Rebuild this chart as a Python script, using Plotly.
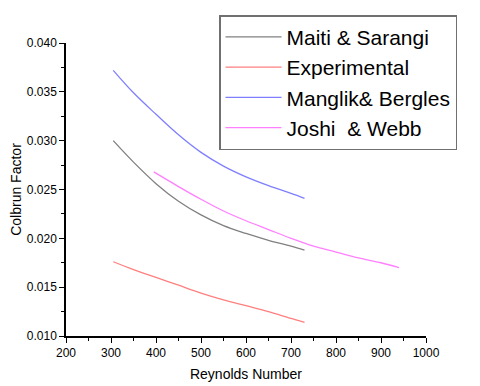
import plotly.graph_objects as go

# Valeurs
re_maiti = [305, 350, 400, 450, 500, 550, 600, 650, 700, 730]
j_maiti = [0.0300, 0.0278, 0.0256, 0.0238, 0.0224, 0.0213, 0.0205, 0.0198, 0.0192, 0.0188]

re_exp = [305, 350, 400, 450, 500, 550, 600, 650, 700, 730]
j_exp = [0.0176, 0.0168, 0.0160, 0.0152, 0.0144, 0.0137, 0.0131, 0.0125, 0.0118, 0.0114]

re_manglik = [305, 350, 400, 450, 500, 550, 600, 650, 700, 730]
j_manglik = [0.0372, 0.0349, 0.0327, 0.0306, 0.0288, 0.0274, 0.0263, 0.0254, 0.0246, 0.0241]

re_joshi = [395, 450, 500, 550, 600, 650, 700, 750, 800, 850, 900, 940]
j_joshi = [0.0268, 0.0253, 0.0240, 0.0228, 0.0218, 0.0209, 0.0200, 0.0192, 0.0186, 0.0180, 0.0175, 0.0170]

series = [
    ("Maiti & Sarangi", re_maiti, j_maiti, "#808080"),
    ("Experimental", re_exp, j_exp, "#ff7f7f"),
    ("Manglik& Bergles", re_manglik, j_manglik, "#7f7fff"),
    ("Joshi  & Webb", re_joshi, j_joshi, "#ff7fff"),
]

fig = go.Figure()
for nom, x, y, couleur in series:
    fig.add_trace(go.Scatter(x=x, y=y, mode="lines", name=nom,
                             line=dict(color=couleur, width=1.3, shape="spline", smoothing=1)))

axe = dict(showline=True, linecolor="black", linewidth=1.5, mirror=False,
           ticks="outside", ticklen=5, tickwidth=1.2, tickcolor="black",
           showgrid=False, zeroline=False, automargin=False,
           tickfont=dict(size=12, color="black"))

# la page ajoute une marge de 8 px autour de la figure
fig.update_layout(
    width=472, height=378,
    margin=dict(l=58, r=54, t=35, b=50, autoexpand=False),
    paper_bgcolor="white", plot_bgcolor="white",
    font=dict(family="Liberation Sans, Arial", color="black"),
    xaxis=dict(axe, range=[200, 1000], dtick=100,
               minor=dict(ticks="outside", ticklen=3, dtick=50, tickcolor="black"),
               title=dict(text="Reynolds Number", font=dict(size=14), standoff=10)),
    yaxis=dict(axe, range=[0.010, 0.040], dtick=0.005, tickformat=".3f",
               minor=dict(ticks="outside", ticklen=3, dtick=0.0025, tickcolor="black"),
               title=dict(text="Colbrun Factor", font=dict(size=14), standoff=8)),
    legend=dict(x=0.425, y=1.095, xanchor="left", yanchor="top",
                bordercolor="#707070", borderwidth=1.5, bgcolor="white",
                font=dict(size=21), itemwidth=56, tracegroupgap=0),
    showlegend=True,
)

fig.write_html("out.html")
